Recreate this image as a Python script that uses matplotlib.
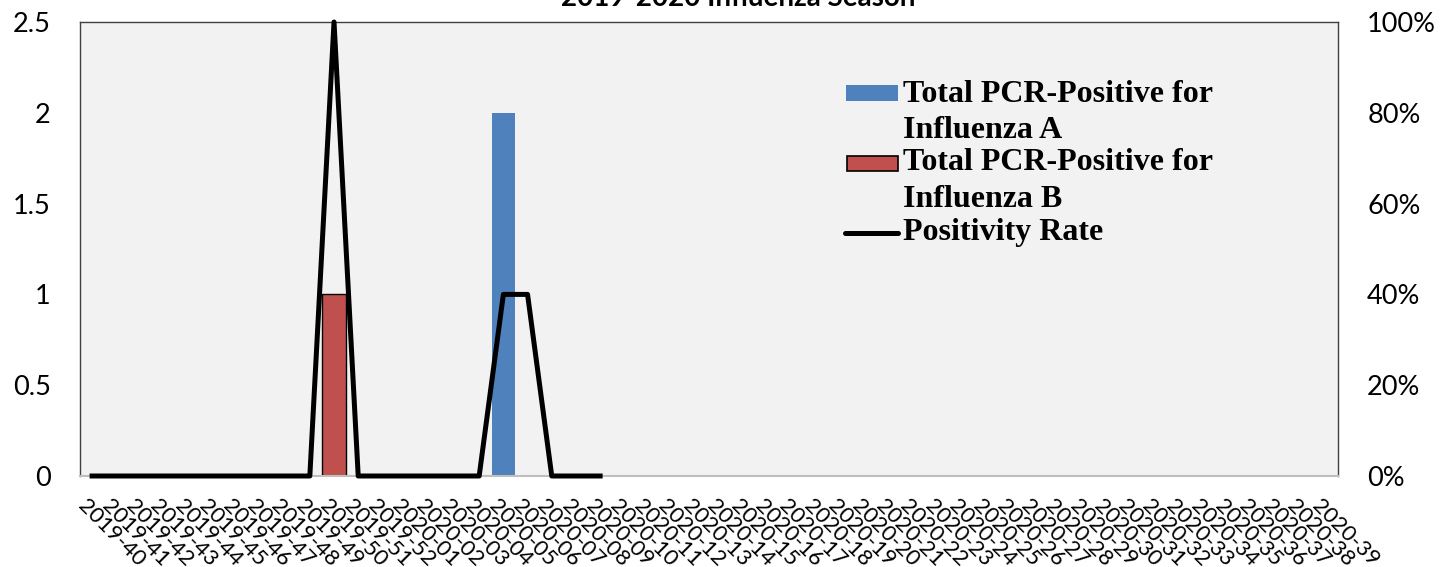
import matplotlib
matplotlib.use("Agg")
import matplotlib.pyplot as plt
import numpy as np
from matplotlib.patches import Rectangle
from matplotlib.lines import Line2D
from matplotlib.ticker import PercentFormatter
import matplotlib.transforms as mtransforms

# week labels 2019-40 .. 2020-39
weeks = [f"2019-{w}" for w in range(40, 53)] + [f"2020-{w:02d}" for w in range(1, 40)]

flu_a = [0, 0, 0, 0, 0, 0, 0, 0, 0, 0,
         0, 0, 0, 0, 0, 0, 0, 2, 0, 0,
         0, 0, 0, 0, 0, 0, 0, 0, 0, 0,
         0, 0, 0, 0, 0, 0, 0, 0, 0, 0,
         0, 0, 0, 0, 0, 0, 0, 0, 0, 0,
         0, 0]
flu_b = [0, 0, 0, 0, 0, 0, 0, 0, 0, 0,
         1, 0, 0, 0, 0, 0, 0, 0, 0, 0,
         0, 0, 0, 0, 0, 0, 0, 0, 0, 0,
         0, 0, 0, 0, 0, 0, 0, 0, 0, 0,
         0, 0, 0, 0, 0, 0, 0, 0, 0, 0,
         0, 0]
# positivity rate, only reported up to 2020-09
positivity = [0, 0, 0, 0, 0, 0, 0, 0, 0, 0,
              1.0, 0, 0, 0, 0, 0, 0, 0.4, 0.4, 0,
              0, 0]

W, H = 1456, 567
BLUE = '#4F81BD'
RED = '#C0504D'
TICK_FONT = 'Lato'
LEG_FONT = 'Liberation Serif'


def fx(x):
    return x / W


def fy(y):
    return 1 - y / H


fig = plt.figure(figsize=(W / 100, H / 100), dpi=100)
ax = fig.add_axes([fx(80), fy(476), fx(1338) - fx(80), fy(22) - fy(476)])
ax.set_facecolor('#F2F2F2')

x = np.arange(len(weeks))
a = np.array(flu_a, dtype=float)
b = np.array(flu_b, dtype=float)
ax.bar(x, np.where(a > 0, a, np.nan), width=0.98, color=BLUE, zorder=2)
ax.bar(x, np.where(b > 0, b, np.nan), width=0.98, color=RED,
       edgecolor='black', linewidth=1, zorder=2)

ax.set_xlim(-0.5, len(weeks) - 0.5)
ax.set_ylim(0, 2.5)
ax.set_yticks([0, 0.5, 1, 1.5, 2, 2.5])
ax.set_yticklabels(['0', '0.5', '1', '1.5', '2', '2.5'])
ax.tick_params(axis='y', length=0, pad=21, labelsize=19.5)
for t in ax.get_yticklabels():
    t.set_fontfamily(TICK_FONT)

ax.set_xticks(x)
ax.set_xticklabels(weeks, rotation=-45, ha='left', va='top',
                   rotation_mode='anchor', fontsize=16, fontfamily=TICK_FONT)
ax.tick_params(axis='x', length=0, pad=14)
shift = mtransforms.ScaledTranslation(-4 / 100, 0, fig.dpi_scale_trans)
for t in ax.get_xticklabels():
    t.set_transform(t.get_transform() + shift)

for s in ['left', 'top', 'right']:
    ax.spines[s].set_color('#404040')
    ax.spines[s].set_linewidth(1)
ax.spines['bottom'].set_color('#BFBFBF')
ax.spines['bottom'].set_linewidth(1.5)

ax2 = ax.twinx()
ax2.set_ylim(0, 1)
ax2.set_yticks([0, 0.2, 0.4, 0.6, 0.8, 1.0])
ax2.yaxis.set_major_formatter(PercentFormatter(1.0, decimals=0))
ax2.tick_params(axis='y', length=0, pad=21, labelsize=19.5)
for t in ax2.get_yticklabels():
    t.set_fontfamily(TICK_FONT)
for s in ax2.spines.values():
    s.set_visible(False)

ax2.plot(np.arange(len(positivity)), positivity, color='black', linewidth=3.6,
         solid_joinstyle='round', clip_on=False, zorder=3)

# title (mostly cut off at the top edge in the original)
fig.text(0.507, fy(6), '2019-2020 Influenza Season', ha='center', va='baseline',
         fontsize=20, fontweight='bold', fontfamily=TICK_FONT)

# legend drawn by hand so the handles line up with the first text line
leg_kw = dict(fontsize=23, fontweight='bold', fontfamily=LEG_FONT,
              ha='left', va='baseline')
fig.add_artist(Rectangle((fx(846), fy(101)), fx(52), fy(85) - fy(101),
                         transform=fig.transFigure, facecolor=BLUE,
                         edgecolor='none', zorder=5))
fig.text(fx(903), fy(102), 'Total PCR-Positive for', zorder=5, **leg_kw)
fig.text(fx(903), fy(138), 'Influenza A', zorder=5, **leg_kw)
fig.add_artist(Rectangle((fx(847), fy(171)), fx(51), fy(156) - fy(171),
                         transform=fig.transFigure, facecolor=RED,
                         edgecolor='black', linewidth=1.2, zorder=5))
fig.text(fx(903), fy(170), 'Total PCR-Positive for', zorder=5, **leg_kw)
fig.text(fx(903), fy(207), 'Influenza B', zorder=5, **leg_kw)
fig.add_artist(Line2D([fx(845), fx(898)], [fy(233), fy(233)],
                      transform=fig.transFigure, color='black',
                      linewidth=3.6, solid_capstyle='round', zorder=5))
fig.text(fx(903), fy(240), 'Positivity Rate', zorder=5, **leg_kw)

fig.savefig('out.png', dpi=100, facecolor='white')
